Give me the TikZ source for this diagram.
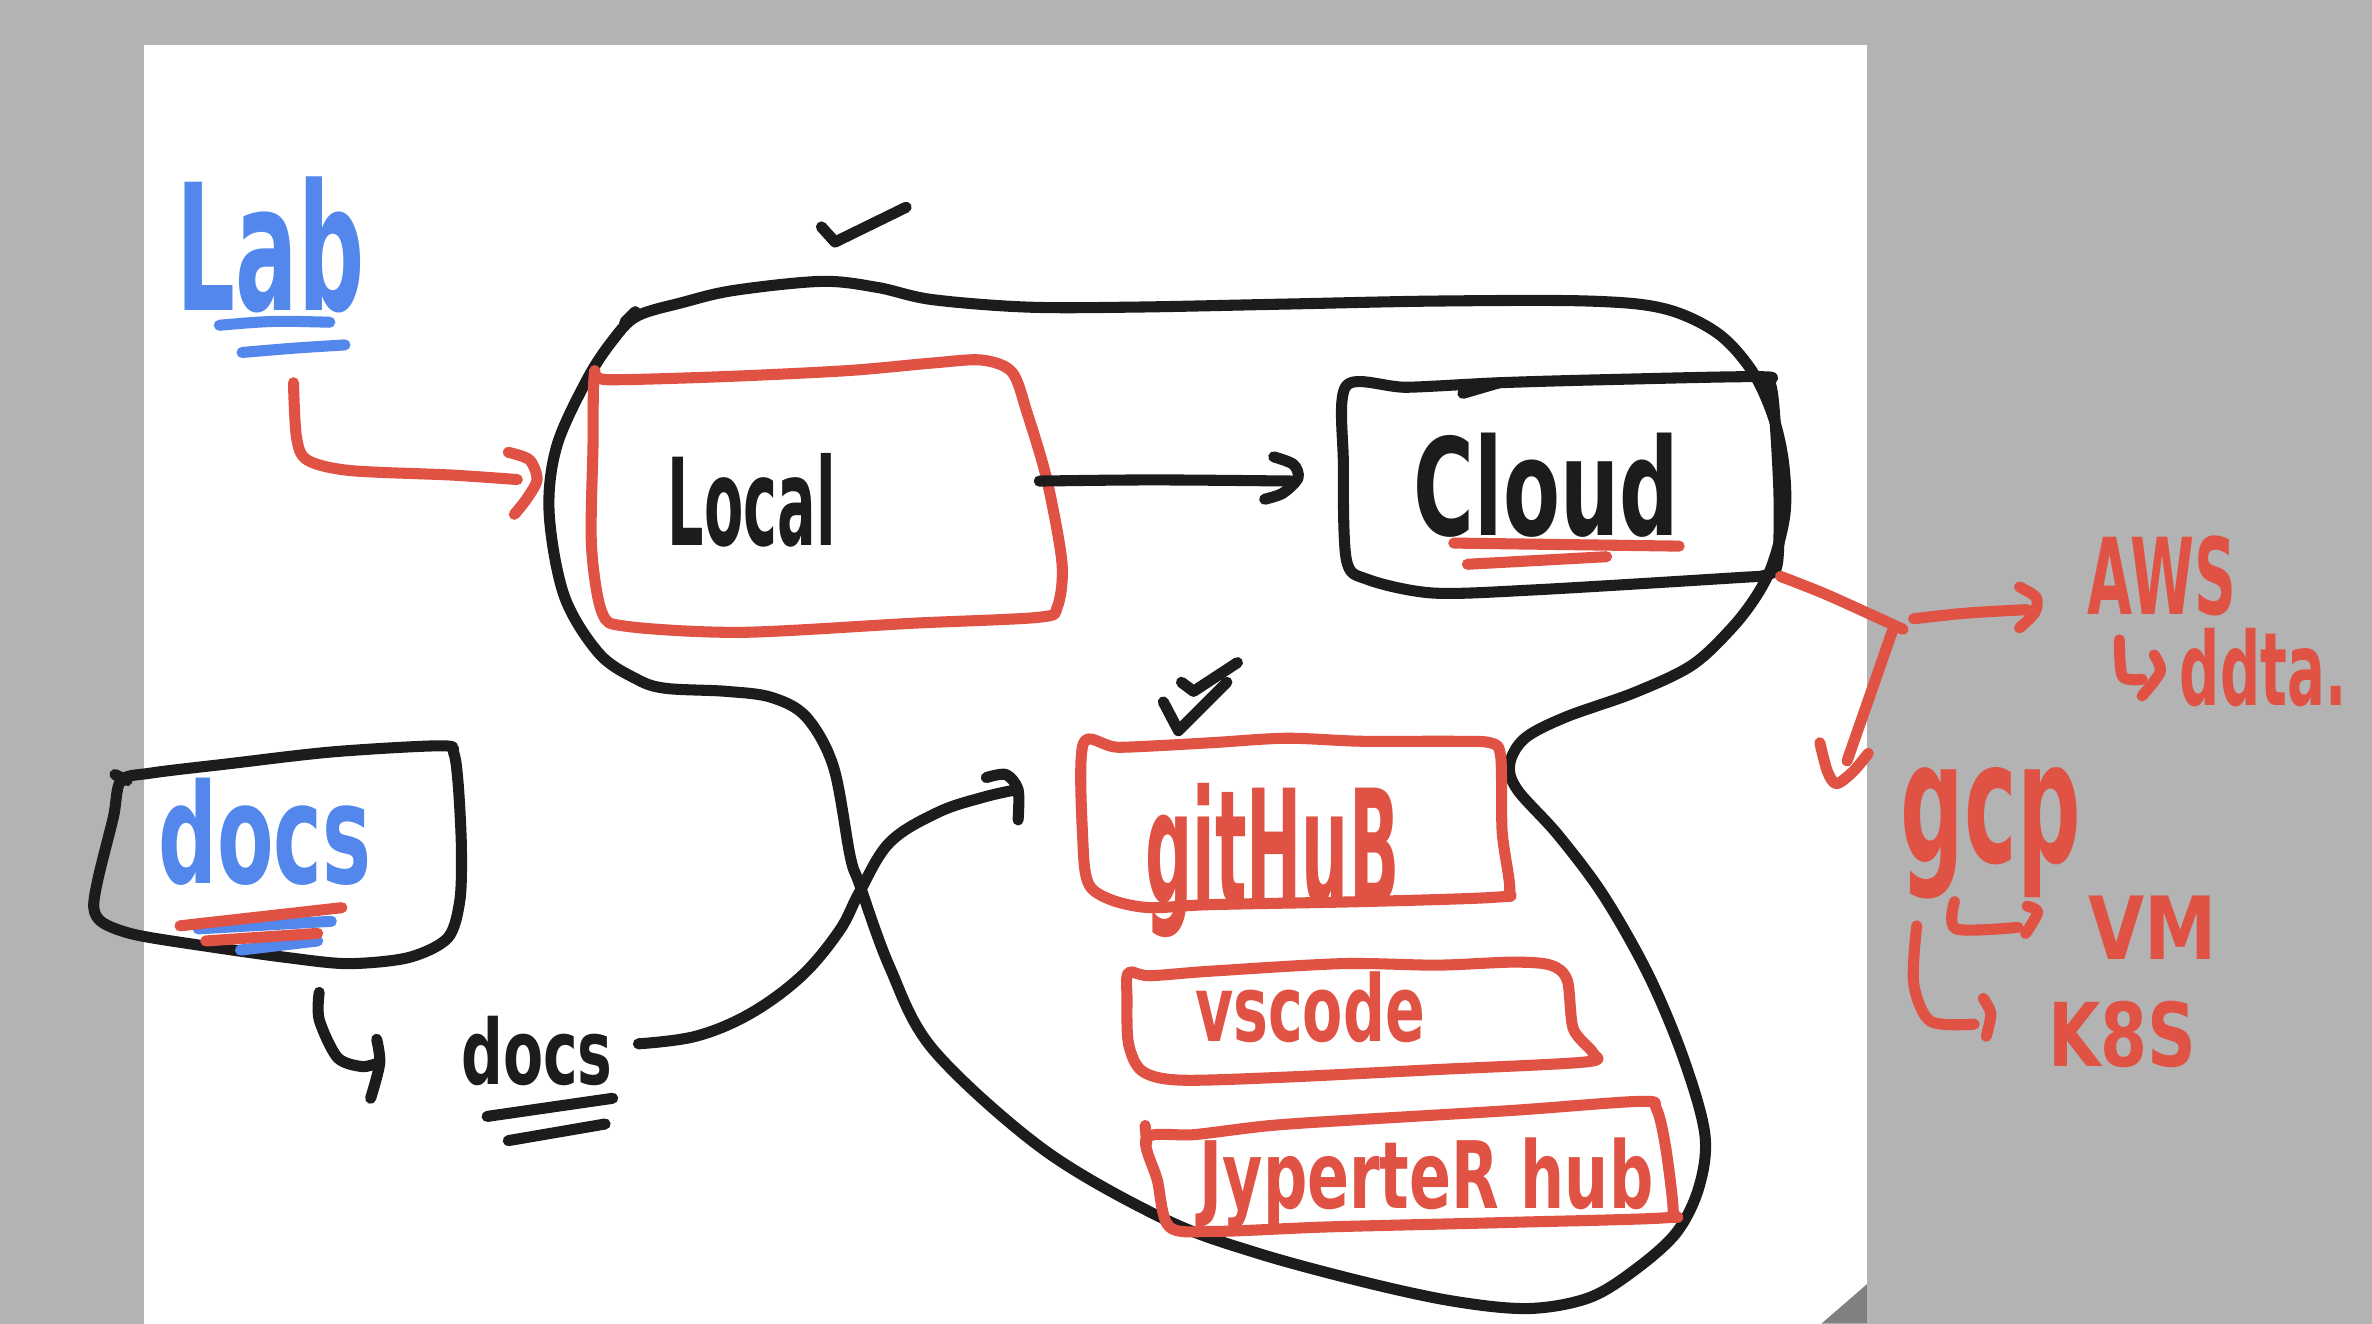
\documentclass[tikz,border=0pt]{standalone}
\usepackage{fontspec}
\setmainfont{DejaVu Sans}
\usepackage{graphicx}
\newlength\unitsz
\setlength\unitsz{0.030256cm}
\newcommand\fitbox[3]{\resizebox*{#1\unitsz}{#2\unitsz}{\bfseries #3}}
\definecolor{pen}{RGB}{28,28,28}
\definecolor{redpen}{RGB}{223,82,68}
\definecolor{bluepen}{RGB}{83,135,235}
\definecolor{bgcol}{RGB}{179,179,179}
\definecolor{foldcol}{RGB}{128,128,128}
\begin{document}
\begin{tikzpicture}[x=0.030256cm,y=-0.030256cm,
  ink/.style={line width=6.3pt,line cap=round,line join=round},
  kstroke/.style={ink,draw=pen},
  rstroke/.style={ink,draw=redpen},
  bstroke/.style={ink,draw=bluepen},
  lbl/.style={inner sep=0pt,outer sep=0pt},
  ktext/.style={lbl,text=pen},
  rtext/.style={lbl,text=redpen},
  btext/.style={lbl,text=bluepen}]
\useasboundingbox (0,0) rectangle (1568,875);
% page
\fill[bgcol] (0,0) rectangle (1568,875);
\fill[white] (95,30) rectangle (1234,875);
\fill[foldcol] (1234,849) -- (1234,875) -- (1204,875) -- cycle;

% ---------- big blob ----------
\draw[kstroke] plot[smooth cycle,tension=0.55] coordinates {
 (421,209) (451,200) (485,192) (543,186) (580,190) (616,198) (679,203) (750,203)
 (850,201) (950,199) (1050,199) (1100,204) (1135,220) (1158,245) (1172,275)
 (1179,306) (1180,339) (1172,372) (1161,394) (1144,416) (1118,440) (1080,458)
 (1035,474) (1008,488) (998,505) (1003,522) (1030,552) (1060,592) (1090,645)
 (1113,700) (1127,750) (1123,785) (1108,815) (1080,840) (1050,858) (1010,865)
 (960,860) (900,847) (830,828) (770,806) (690,760) (617,694) (588,639) (568,584)
 (562,566) (551,507) (533,474) (510,461) (480,457) (440,455) (421,449) (396,432)
 (373,394) (363,339) (368,295) (388,251) (405,225)};
\draw[kstroke] (413,213) -- (420,206);
% check marks
\draw[kstroke] (543,150) -- (552,160) -- (599,137);
\draw[kstroke] (769,464) -- (779,483) -- (811,451);
\draw[kstroke] (781,451) -- (789,457) -- (818,438);

% ---------- Local box ----------
\draw[rstroke] plot[smooth cycle,tension=0.5] coordinates {
 (393,247) (401,251) (477,249) (560,245) (616,240) (649,238) (669,246) (679,273)
 (692,317) (702,372) (699,401) (687,408) (603,412) (490,418) (414,414) (398,405)
 (391,361) (392,295)};
\node[ktext] (local) at (497,331) {\fitbox{111}{62}{Local}};

% ---------- Cloud box ----------
\draw[kstroke] plot[smooth cycle,tension=0.5] coordinates {
 (890,255) (930,256) (991,253) (1060,251) (1163,249) (1170,253) (1173,273)
 (1176,328) (1175,372) (1168,380) (1146,382) (1013,390) (947,392) (904,383)
 (890,370) (888,306)};
\draw[kstroke] (967,260) -- (991,253);
\node[ktext] (cloud) at (1022,321) {\fitbox{175}{69}{Cloud}};
\draw[rstroke] (961,359) -- (1110,361);
\draw[rstroke] (970,373) -- (1062,368);

% ---------- Lab ----------
\node[btext] (lab) at (179,162) {\fitbox{124}{90}{Lab}};
\draw[bstroke] (145,215) .. controls (180,212) .. (218,213);
\draw[bstroke] (160,233) .. controls (195,230) .. (228,228);

% Lab -> Local
\coordinate (lab-s) at (194,253);
\coordinate (lab-e) at (342,317);
\draw[rstroke] plot[smooth,tension=0.5] coordinates {(lab-s) (196,289) (203,304) (231,311) (298,314) (lab-e)};
\draw[rstroke] plot[smooth] coordinates {(336,299) (350,304) (355,317) (348,330) (340,340)};

% Local -> Cloud
\coordinate (lc-s) at (687,318);
\coordinate (lc-e) at (855,318);
\draw[kstroke] (lc-s) .. controls (760,317) .. (lc-e);
\draw[kstroke] plot[smooth] coordinates {(842,302) (855,307) (858,316) (848,326) (836,330)};

% ---------- docs box ----------
\draw[kstroke] plot[smooth cycle,tension=0.5] coordinates {
 (80,516) (100,511) (150,505) (220,497) (292,493) (300,498) (303,520) (305,560)
 (304,595) (296,620) (270,633) (230,637) (190,633) (140,626) (90,618) (68,610)
 (62,600) (65,580) (75,540)};
\draw[kstroke] (76,512) -- (84,516);
\node[btext] (docsA) at (175,550) {\fitbox{141}{71}{docs}};
\draw[bstroke] (131,614) -- (219,609);
\draw[rstroke] (119,612) -- (226,600);
\draw[bstroke] (159,628) -- (210,622);
\draw[rstroke] (136,622) -- (210,617);

% hook under docs
\draw[kstroke] plot[smooth] coordinates {(211,656) (211,674) (223,699) (239,705) (249,703)};
\draw[kstroke] plot[smooth] coordinates {(249,687) (251,703) (245,726)};

\node[ktext] (docsB) at (355,695) {\fitbox{100}{46}{docs}};
\draw[kstroke] (322,738) -- (405,726);
\draw[kstroke] (336,754) -- (400,743);

% docs -> github
\coordinate (dg-s) at (422,690);
\coordinate (dg-e) at (672,522);
\draw[kstroke] plot[smooth,tension=0.6] coordinates {(dg-s) (460,685) (496,670) (530,645) (555,615) (568,590) (588,557) (620,537) (650,527) (dg-e)};
\draw[kstroke] plot[smooth] coordinates {(652,514) (665,512) (673,522) (673,542)};

% ---------- github / vscode / jupyter boxes ----------
\draw[rstroke] plot[smooth cycle,tension=0.5] coordinates {
 (716,492) (740,494) (800,491) (850,488) (900,490) (960,490) (985,491) (992,500)
 (993,550) (998,588) (990,593) (900,596) (800,598) (760,600) (735,595) (720,585)
 (716,560)};
\node[rtext] (github) at (841,569) {\fitbox{168}{102}{gitHuB}};

\draw[rstroke] plot[smooth cycle,tension=0.5] coordinates {
 (746,643) (760,645) (800,642) (887,637) (950,638) (1000,636) (1025,638) (1036,648)
 (1040,680) (1053,696) (1048,702) (950,707) (850,712) (780,714) (755,708) (746,690)
 (745,660)};
\node[rtext] (vscode) at (866,666) {\fitbox{152}{47}{vscode}};

\draw[rstroke] plot[smooth cycle,tension=0.5] coordinates {
 (758,752) (790,750) (840,744) (900,740) (1000,734) (1085,728) (1095,733) (1101,758)
 (1106,800) (1101,805) (1000,808) (879,811) (803,814) (773,811) (765,780)};
\draw[rstroke] (757,744) -- (758,756);
\node[rtext] (jhub) at (943,782) {\fitbox{300}{60}{JyperteR hub}};

% ---------- cloud -> AWS / GCP ----------
\coordinate (cg-s) at (1177,381);
\coordinate (cg-j) at (1258,416);
\coordinate (aws-e) at (1340,403);
\coordinate (gcp-e) at (1221,503);
\draw[rstroke] plot[smooth] coordinates {(cg-s) (1205,392) (1234,405) (cg-j)};
\draw[rstroke] (1265,409) .. controls (1300,405) .. (aws-e);
\draw[rstroke] plot[smooth] coordinates {(1335,388) (1346,395) (1345,405) (1335,415)};
\draw[rstroke] (1251,417) .. controls (1236,460) .. (gcp-e);
\draw[rstroke] plot[smooth] coordinates {(1203,491) (1208,510) (1214,518) (1225,510) (1235,498)};

\node[rtext] (aws) at (1429,381) {\fitbox{98}{53}{AWS}};
\draw[rstroke] plot[smooth] coordinates {(1401,423) (1403,447) (1416,449)};
\draw[rstroke] plot[smooth] coordinates {(1424,433) (1428,444) (1416,460)};
\node[rtext] (awsdata) at (1496,441) {\fitbox{110}{52}{ddta.}};

\node[rtext] (gcp) at (1316,551) {\fitbox{119}{87}{gcp}};
\draw[rstroke] plot[smooth] coordinates {(1292,596) (1293,614) (1334,613)};
\draw[rstroke] plot[smooth] coordinates {(1340,599) (1347,603) (1339,617)};
\node[rtext] (vm) at (1423,613) {\fitbox{85}{42}{VM}};
\draw[rstroke] plot[smooth,tension=0.5] coordinates {(1267,612) (1265,650) (1276,675) (1305,677)};
\draw[rstroke] plot[smooth] coordinates {(1311,660) (1316,670) (1313,685)};
\node[rtext] (k8s) at (1403,684) {\fitbox{98}{44}{K8S}};
\end{tikzpicture}
\end{document}
